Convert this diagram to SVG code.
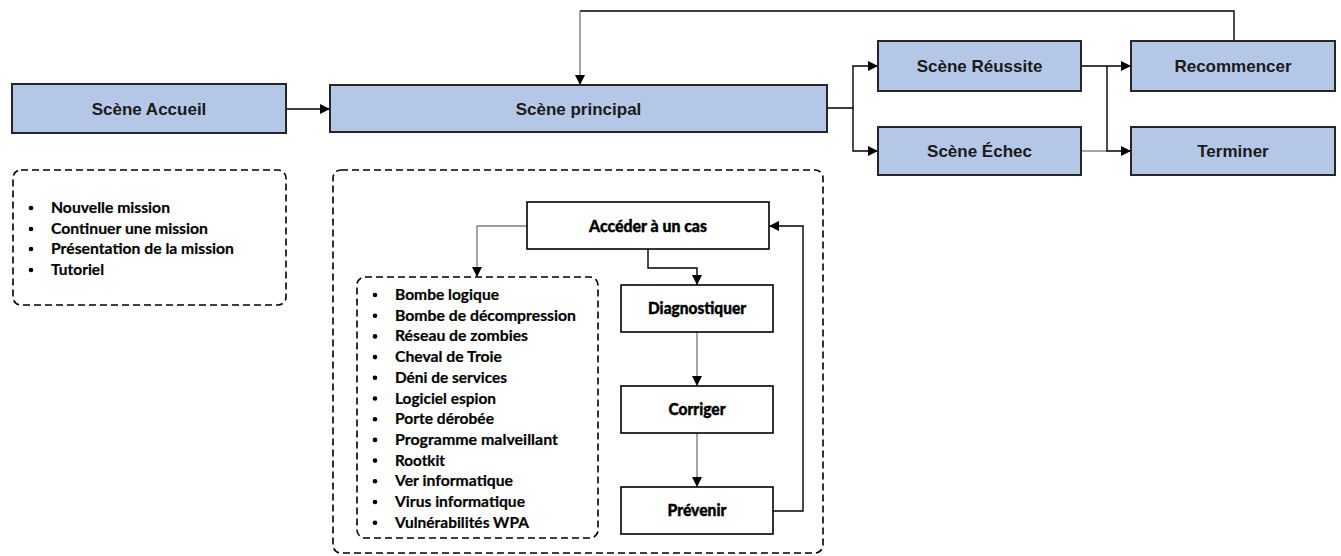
<svg xmlns="http://www.w3.org/2000/svg" width="1341" height="556" viewBox="0 0 1341 556">
  <style>
    .scene { fill: #b4c7e7; stroke: #262626; stroke-width: 2; }
    .step { fill: #ffffff; stroke: #000000; stroke-width: 1.6; }
    .group { fill: none; stroke: #000000; stroke-width: 1.6; stroke-dasharray: 7 4; }
    .link { fill: none; stroke: #000000; stroke-width: 1.4; }
    .link.grey { stroke: #7f7f7f; }
    .title { font-family: "Liberation Sans", Arial, sans-serif; font-weight: bold; font-size: 17px; fill: #1a1a1a; text-anchor: middle; }
    .label { font-family: Lato, "Liberation Sans", sans-serif; font-weight: 900; font-size: 16.5px; fill: #000000; stroke: #000000; stroke-width: 0.4; text-anchor: middle; }
    .item { font-family: Lato, "Liberation Sans", sans-serif; font-weight: bold; font-size: 16px; fill: #000000; stroke: #000000; stroke-width: 0.2; }
    .dot { fill: #000000; }
  </style>
  <defs>
    <marker id="arrow" markerUnits="userSpaceOnUse" markerWidth="10" markerHeight="10" refX="10" refY="5" orient="auto">
      <path d="M0,0 L10,5 L0,10 z" fill="#000000"/>
    </marker>
  </defs>

  <rect width="1341" height="556" fill="#ffffff"/>

  <!-- connectors -->
  <g id="connectors">
    <line class="link" x1="286" y1="109" x2="330" y2="109" marker-end="url(#arrow)"/>
    <polyline class="link" points="827,108 853,108 853,66 878,66" marker-end="url(#arrow)"/>
    <polyline class="link" points="853,108 853,151 878,151" marker-end="url(#arrow)"/>
    <polyline class="link" points="1081,66 1107,66 1131,66" marker-end="url(#arrow)"/>
    <line class="link grey" x1="1081" y1="151" x2="1107" y2="151"/>
    <polyline class="link" points="1107,66 1107,151 1131,151" marker-end="url(#arrow)"/>
    <polyline class="link" points="1234,41 1234,11 580,11"/>
    <line class="link grey" x1="580" y1="11" x2="580" y2="85" marker-end="url(#arrow)"/>
    <polyline class="link grey" points="527,226 477,226 477,277" marker-end="url(#arrow)"/>
    <polyline class="link" points="648,249 648,268 697,268 697,285" marker-end="url(#arrow)"/>
    <line class="link grey" x1="697" y1="332" x2="697" y2="386" marker-end="url(#arrow)"/>
    <line class="link grey" x1="697" y1="433" x2="697" y2="487" marker-end="url(#arrow)"/>
    <polyline class="link" points="773,511 803,511 803,226 769,226" marker-end="url(#arrow)"/>
  </g>

  <!-- scenes -->
  <g id="scene-accueil">
    <rect class="scene" x="12" y="84" width="274" height="49"/>
    <text class="title" x="149" y="115">Scène Accueil</text>
  </g>
  <g id="scene-principal">
    <rect class="scene" x="330" y="85" width="497" height="47"/>
    <text class="title" x="578.5" y="114.5">Scène principal</text>
  </g>
  <g id="scene-reussite">
    <rect class="scene" x="878" y="41" width="203" height="50"/>
    <text class="title" x="979.5" y="72">Scène Réussite</text>
  </g>
  <g id="scene-echec">
    <rect class="scene" x="878" y="127" width="203" height="48"/>
    <text class="title" x="979.5" y="157">Scène Échec</text>
  </g>
  <g id="recommencer">
    <rect class="scene" x="1131" y="41" width="204" height="50"/>
    <text class="title" x="1233" y="72">Recommencer</text>
  </g>
  <g id="terminer">
    <rect class="scene" x="1131" y="127" width="204" height="48"/>
    <text class="title" x="1233" y="157">Terminer</text>
  </g>

  <!-- menu of the welcome scene -->
  <g id="menu-accueil">
    <rect class="group" x="13" y="170" width="273" height="135" rx="8"/>
    <circle class="dot" cx="31" cy="208" r="2.3"/>
    <circle class="dot" cx="31" cy="229" r="2.3"/>
    <circle class="dot" cx="31" cy="249" r="2.3"/>
    <circle class="dot" cx="31" cy="270" r="2.3"/>
    <text class="item" x="51" y="213" textLength="119" lengthAdjust="spacingAndGlyphs">Nouvelle mission</text>
    <text class="item" x="51" y="234" textLength="157" lengthAdjust="spacingAndGlyphs">Continuer une mission</text>
    <text class="item" x="51" y="254" textLength="183" lengthAdjust="spacingAndGlyphs">Présentation de la mission</text>
    <text class="item" x="51" y="275" textLength="53" lengthAdjust="spacingAndGlyphs">Tutoriel</text>
  </g>

  <!-- main scene content -->
  <g id="contenu-principal">
    <rect class="group" x="333" y="170" width="490" height="383" rx="8"/>
  </g>

  <g id="acceder">
    <rect class="step" x="527" y="202" width="242" height="47"/>
    <text class="label" x="648" y="231.5" textLength="118" lengthAdjust="spacingAndGlyphs">Accéder à un cas</text>
  </g>
  <g id="diagnostiquer">
    <rect class="step" x="621" y="285" width="152" height="47"/>
    <text class="label" x="697" y="314" textLength="98" lengthAdjust="spacingAndGlyphs">Diagnostiquer</text>
  </g>
  <g id="corriger">
    <rect class="step" x="621" y="386" width="152" height="47"/>
    <text class="label" x="697" y="415" textLength="57" lengthAdjust="spacingAndGlyphs">Corriger</text>
  </g>
  <g id="prevenir">
    <rect class="step" x="621" y="487" width="152" height="47"/>
    <text class="label" x="697" y="516" textLength="59" lengthAdjust="spacingAndGlyphs">Prévenir</text>
  </g>

  <!-- list of threats -->
  <g id="menaces">
    <rect class="group" x="357" y="277" width="241" height="261" rx="8"/>
    <g>
      <circle class="dot" cx="375" cy="295" r="2.3"/>
      <circle class="dot" cx="375" cy="315.7" r="2.3"/>
      <circle class="dot" cx="375" cy="336.4" r="2.3"/>
      <circle class="dot" cx="375" cy="357.1" r="2.3"/>
      <circle class="dot" cx="375" cy="377.8" r="2.3"/>
      <circle class="dot" cx="375" cy="398.5" r="2.3"/>
      <circle class="dot" cx="375" cy="419.2" r="2.3"/>
      <circle class="dot" cx="375" cy="439.9" r="2.3"/>
      <circle class="dot" cx="375" cy="460.6" r="2.3"/>
      <circle class="dot" cx="375" cy="481.3" r="2.3"/>
      <circle class="dot" cx="375" cy="502" r="2.3"/>
      <circle class="dot" cx="375" cy="522.7" r="2.3"/>
    </g>
    <text class="item" x="395" y="300" textLength="104" lengthAdjust="spacingAndGlyphs">Bombe logique</text>
    <text class="item" x="395" y="320.7" textLength="181" lengthAdjust="spacingAndGlyphs">Bombe de décompression</text>
    <text class="item" x="395" y="341.4" textLength="133" lengthAdjust="spacingAndGlyphs">Réseau de zombies</text>
    <text class="item" x="395" y="362.1" textLength="107" lengthAdjust="spacingAndGlyphs">Cheval de Troie</text>
    <text class="item" x="395" y="382.8" textLength="112" lengthAdjust="spacingAndGlyphs">Déni de services</text>
    <text class="item" x="395" y="403.5" textLength="101" lengthAdjust="spacingAndGlyphs">Logiciel espion</text>
    <text class="item" x="395" y="424.2" textLength="99" lengthAdjust="spacingAndGlyphs">Porte dérobée</text>
    <text class="item" x="395" y="444.9" textLength="163" lengthAdjust="spacingAndGlyphs">Programme malveillant</text>
    <text class="item" x="395" y="465.6" textLength="50" lengthAdjust="spacingAndGlyphs">Rootkit</text>
    <text class="item" x="395" y="486.3" textLength="118" lengthAdjust="spacingAndGlyphs">Ver informatique</text>
    <text class="item" x="395" y="507" textLength="130" lengthAdjust="spacingAndGlyphs">Virus informatique</text>
    <text class="item" x="395" y="527.7" textLength="134" lengthAdjust="spacingAndGlyphs">Vulnérabilités WPA</text>
  </g>
</svg>
